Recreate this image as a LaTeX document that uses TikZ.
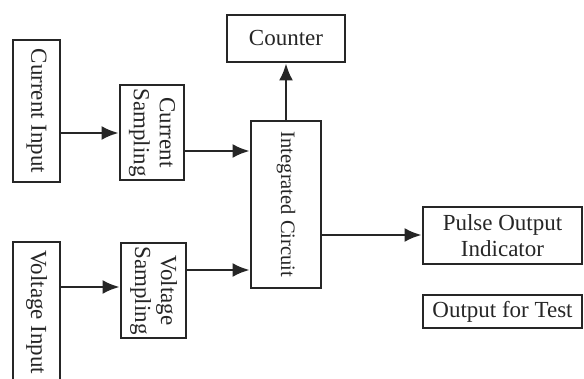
\documentclass[tikz,border=0pt]{standalone}
\usepackage{fontspec}
\setmainfont{Liberation Serif}
\usetikzlibrary{arrows.meta}
\definecolor{ink}{HTML}{262626}
\begin{document}
\begin{tikzpicture}[x=1pt,y=-1pt,
  boxshape/.style={draw=ink,line width=2.8pt,rectangle,inner sep=0pt},
  txt/.style={text=ink,font=\fontsize{23}{26}\selectfont,inner sep=0pt,align=center},
  vtxt/.style={txt,rotate=-90},
  conn/.style={draw=ink,line width=2.6pt,-{Latex[length=17pt,width=14pt]}}]
\useasboundingbox (0,0) rectangle (584,379);
\fill[white] (0,0) rectangle (584,379);
% boxes
\node[boxshape,minimum width=47pt,minimum height=142pt] (ci) at (36.5,111) {};
\node[boxshape,minimum width=64pt,minimum height=95pt] (cs) at (152,132.5) {};
\node[boxshape,minimum width=47pt,minimum height=150pt] (vi) at (36.5,317) {};
\node[boxshape,minimum width=65pt,minimum height=95pt] (vs) at (153.5,290.5) {};
\node[boxshape,minimum width=70pt,minimum height=167pt] (ic) at (286,204.5) {};
\node[boxshape,minimum width=118pt,minimum height=47pt] (co) at (286,38.5) {};
\node[boxshape,minimum width=159pt,minimum height=57pt] (po) at (502.5,235.5) {};
\node[boxshape,minimum width=159pt,minimum height=33pt] (ot) at (502.5,311.5) {};
% texts
\node[vtxt] (cit) at (ci.center) {Current Input};
\node[vtxt] (cst) at (cs.center) {Current\\Sampling};
\node[vtxt,anchor=west] (vit) at (36.5,250) {Voltage Input};
\node[vtxt] (vst) at (vs.center) {Voltage\\Sampling};
\node[vtxt,font=\fontsize{20.5}{24}\selectfont] (ict) at (ic.center) {Integrated Circuit};
\node[txt] (cot) at (co.center) {Counter};
\node[txt] (pot) at (po.center) {Pulse Output\\Indicator};
\node[txt] (ott) at (ot.center) {Output for Test};
% connectors
\draw[conn] (ci.east |- 0,133) -- (cs.west |- 0,133);
\draw[conn] (cs.east |- 0,151) -- (ic.west |- 0,151);
\draw[conn] (vi.east |- 0,287) -- (vs.west |- 0,287);
\draw[conn] (vs.east |- 0,270) -- (ic.west |- 0,270);
\draw[conn] (ic.north) -- (co.south);
\draw[conn] (ic.east |- 0,235) -- (po.west |- 0,235);
\end{tikzpicture}
\end{document}
